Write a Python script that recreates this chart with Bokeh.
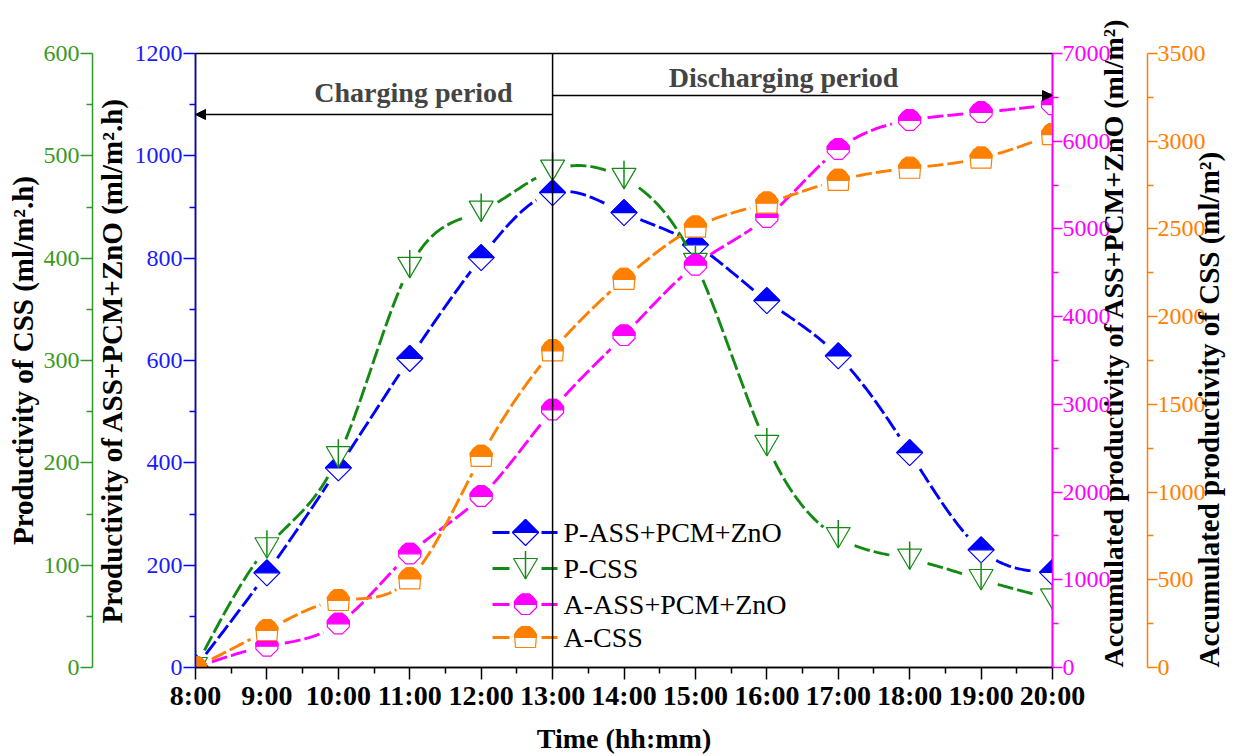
import numpy as np
from bokeh.plotting import figure
from bokeh.models import Range1d, LinearAxis, FixedTicker, Span, Arrow, NormalHead, Label
from bokeh.embed import file_html
from bokeh.resources import INLINE

# ---- data -------------------------------------------------------------
hours = [8, 9, 10, 11, 12, 13, 14, 15, 16, 17, 18, 19, 20]
time_labels = ["8:00", "9:00", "10:00", "11:00", "12:00", "13:00", "14:00",
               "15:00", "16:00", "17:00", "18:00", "19:00", "20:00"]

# hourly productivity (ml/m2.h)
p_ass_pcm_zno = [0, 185, 390, 604, 801, 928, 889, 826, 717, 609, 420, 230, 186]
p_css = [0, 117, 206, 391, 446, 486, 478, 395, 217, 127, 106, 86, 67]

# accumulated productivity (ml/m2)
a_ass_pcm_zno = [0, 243, 498, 1296, 1950, 2938, 3785, 4587, 5131, 5907, 6238, 6328, 6418]
a_css = [0, 211, 382, 505, 1203, 1805, 2212, 2510, 2647, 2777, 2846, 2904, 3038]

series_names = ["P-ASS+PCM+ZnO", "P-CSS", "A-ASS+PCM+ZnO", "A-CSS"]

# ---- geometry / style -------------------------------------------------
FRAME_W, FRAME_H = 857, 614
LEFT, TOP = 195, 53
X_MIN, X_MAX = 8, 20
SERIF = "Liberation Serif"

BLUE, GREEN, MAGENTA, ORANGE = "#0000ff", "#148a14", "#ff00ff", "#ff8000"
GREEN_AXIS = "#2f9a2a"

RANGES = {"default": 1200, "green": 600, "mag": 7000, "orange": 3500}


def px_to_x(px):
    return X_MIN + (px - LEFT) * (X_MAX - X_MIN) / FRAME_W


def px_to_y(py, top=1200):
    return (TOP + FRAME_H - py) * top / FRAME_H


def spline(xv, yv, per_seg=48):
    """Natural cubic spline through the points, sampled for drawing."""
    x = np.asarray(xv, float)
    y = np.asarray(yv, float)
    n = len(x)
    h = np.diff(x)
    A = np.zeros((n, n))
    b = np.zeros(n)
    A[0, 0] = A[-1, -1] = 1.0
    for i in range(1, n - 1):
        A[i, i - 1] = h[i - 1]
        A[i, i] = 2 * (h[i - 1] + h[i])
        A[i, i + 1] = h[i]
        b[i] = 3 * ((y[i + 1] - y[i]) / h[i] - (y[i] - y[i - 1]) / h[i - 1])
    c = np.linalg.solve(A, b)
    xs, ys = [], []
    for i in range(n - 1):
        t = np.linspace(0, h[i], per_seg, endpoint=(i == n - 2))
        bi = (y[i + 1] - y[i]) / h[i] - h[i] * (2 * c[i] + c[i + 1]) / 3
        di = (c[i + 1] - c[i]) / (3 * h[i])
        xs.append(x[i] + t)
        ys.append(y[i] + bi * t + c[i] * t ** 2 + di * t ** 3)
    return np.concatenate(xs), np.concatenate(ys)


def with_gaps(xs, ys, xv, yv, ymax, gap=17):
    """Break the curve near its own symbols."""
    dx = (xs[:, None] - np.asarray(xv, float)[None, :]) * FRAME_W / (X_MAX - X_MIN)
    dy = (ys[:, None] - np.asarray(yv, float)[None, :]) * FRAME_H / ymax
    d = np.sqrt(dx ** 2 + dy ** 2).min(axis=1)
    out = ys.copy()
    out[d < gap] = np.nan
    return out


def shape_at(xv, yv, pts, ymax):
    sx = (X_MAX - X_MIN) / FRAME_W
    sy = ymax / FRAME_H
    xs = [[x + px * sx for px, _ in pts] for x in xv]
    ys = [[y + py * sy for _, py in pts] for y in yv]
    return xs, ys


# symbol outlines in pixels (y up)
DIAMOND = [(0, 13), (13, 0), (0, -13), (-13, 0)]
DIAMOND_TOP = [(-13, 0), (0, 13), (13, 0)]
TRIANGLE = [(-12, 10), (12, 10), (0, -10.5)]
CUP_M = [(-3.5, 10.5), (3.5, 10.5), (7.5, 7.5), (11, 3), (11, -3), (4, -10),
         (-4, -10), (-11, -3), (-11, 3), (-7.5, 7.5)]
CUP_M_TOP = [(-11, 0), (-11, 3), (-7.5, 7.5), (-3.5, 10.5), (3.5, 10.5),
             (7.5, 7.5), (11, 3), (11, 0)]
CUP_O = [(-3.5, 11), (3.5, 11), (7.5, 8), (11, 3), (10, -10), (-10, -10),
         (-11, 3), (-7.5, 8)]
CUP_O_TOP = [(-10.8, 0), (-11, 3), (-7.5, 8), (-3.5, 11), (3.5, 11), (7.5, 8),
             (11, 3), (10.8, 0)]

series = [
    dict(name=series_names[0], values=p_ass_pcm_zno, rng="default", color=BLUE,
         outline=DIAMOND, top=DIAMOND_TOP, stem=False),
    dict(name=series_names[1], values=p_css, rng="green", color=GREEN,
         outline=TRIANGLE, top=None, stem=True),
    dict(name=series_names[2], values=a_ass_pcm_zno, rng="mag", color=MAGENTA,
         outline=CUP_M, top=CUP_M_TOP, stem=False),
    dict(name=series_names[3], values=a_css, rng="orange", color=ORANGE,
         outline=CUP_O, top=CUP_O_TOP, stem=False),
]

# ---- figure -----------------------------------------------------------
p = figure(frame_width=FRAME_W, frame_height=FRAME_H,
           x_range=Range1d(X_MIN, X_MAX), y_range=Range1d(0, 1200),
           x_axis_location=None, y_axis_location=None,
           toolbar_location=None, output_backend="svg",
           min_border_left=LEFT, min_border_right=195,
           min_border_top=TOP, min_border_bottom=89)
p.extra_y_ranges = {"green": Range1d(0, 600), "mag": Range1d(0, 7000),
                    "orange": Range1d(0, 3500)}
p.grid.visible = False
p.outline_line_color = "black"
p.outline_line_width = 1.5
p.background_fill_color = "white"
p.border_fill_color = "white"


def style_axis(ax, color, label_color, tick_out=12, minor_out=6):
    ax.axis_line_color = color
    ax.axis_line_width = 1.5
    ax.major_tick_line_color = color
    ax.minor_tick_line_color = color
    ax.major_tick_line_width = 1.5
    ax.minor_tick_line_width = 1.5
    ax.major_tick_out = tick_out
    ax.major_tick_in = 0
    ax.minor_tick_out = minor_out
    ax.minor_tick_in = 0
    ax.major_label_text_color = label_color
    ax.major_label_text_font = SERIF
    ax.major_label_text_font_size = "24px"
    ax.major_label_standoff = 1
    ax.axis_label_text_font = SERIF
    ax.axis_label_text_font_style = "bold"
    ax.axis_label_text_font_size = "29px"
    ax.axis_label_text_color = "black"
    ax.axis_label_standoff = 2


def ticks(step, top):
    major = list(range(0, top + 1, step))
    minor = [v + step / 2 for v in major[:-1]]
    return FixedTicker(ticks=major, minor_ticks=minor)


# x axis
xax = LinearAxis(ticker=FixedTicker(ticks=hours, minor_ticks=[h + 0.5 for h in hours[:-1]]),
                 major_label_overrides={h: t for h, t in zip(hours, time_labels)},
                 axis_label="Time (hh:mm)")
style_axis(xax, "black", "black")
xax.major_label_text_font_size = "28px"
xax.major_label_text_font_style = "bold"
xax.axis_label_text_font_size = "28px"
xax.major_label_standoff = 0
xax.axis_label_standoff = 9
p.add_layout(xax, "below")

# left axes (inner blue, outer green)
blue_ax = LinearAxis(ticker=ticks(200, 1200),
                     axis_label="Productivity of ASS+PCM+ZnO (ml/m\u00b2.h)")
style_axis(blue_ax, BLUE, "#1a1aff")
blue_ax.axis_label_standoff = 4
p.add_layout(blue_ax, "left")

green_ax = LinearAxis(y_range_name="green", ticker=ticks(100, 600),
                      axis_label="Productivity of CSS (ml/m\u00b2.h)")
style_axis(green_ax, GREEN_AXIS, "#3c9a1c")
p.add_layout(green_ax, "left")

# right axes (inner magenta, outer orange), titles reading upwards from
# the bottom of the axis
mag_ax = LinearAxis(y_range_name="mag", ticker=ticks(1000, 7000),
                    axis_label="Accumulated productivity of ASS+PCM+ZnO (ml/m\u00b2)")
orange_ax = LinearAxis(y_range_name="orange", ticker=ticks(500, 3500),
                       axis_label="Accumulated productivity of CSS (ml/m\u00b2)")
props = LinearAxis.properties()
upright = "axis_label_orientation" in props and "axis_label_align" in props
for ax, col in ((mag_ax, MAGENTA), (orange_ax, ORANGE)):
    style_axis(ax, col, col, tick_out=10, minor_out=6)
    ax.major_label_standoff = 0
    ax.axis_label_standoff = 0
    if upright:
        ax.axis_label_orientation = np.pi / 2
        ax.axis_label_align = "start"
    p.add_layout(ax, "right")
mag_ax.axis_label_text_font_size = "28px"

# ---- series -----------------------------------------------------------


def draw_symbols(s, xv, yv, ymax, rng):
    xs, ys = shape_at(xv, yv, s["outline"], ymax)
    p.patches(xs, ys, fill_color="white", line_color=s["color"], line_width=1.2,
              y_range_name=rng)
    if s["top"] is not None:
        xs, ys = shape_at(xv, yv, s["top"], ymax)
        p.patches(xs, ys, fill_color=s["color"], line_color=s["color"], line_width=1.2,
                  y_range_name=rng)
    if s["stem"]:
        sy = ymax / FRAME_H
        p.segment(x0=list(xv), y0=[y + 17.5 * sy for y in yv],
                  x1=list(xv), y1=[y - 10.5 * sy for y in yv],
                  line_color=s["color"], line_width=1.5, y_range_name=rng)


for s in series:
    rng = s["rng"]
    ymax = RANGES[rng]
    xs, ys = spline(hours, s["values"])
    ys = with_gaps(xs, ys, hours, s["values"], ymax)
    p.line(xs, ys, line_color=s["color"], line_width=2.9, line_dash="16 4",
           y_range_name=rng)
    draw_symbols(s, hours, s["values"], ymax, rng)

# ---- legend (drawn in the primary axis coordinates) -------------------
legend_rows = [532, 568, 604, 637]
for s, row in zip(series, legend_rows):
    yc = px_to_y(row)
    p.segment(x0=[px_to_x(492), px_to_x(541)], y0=[yc, yc],
              x1=[px_to_x(509), px_to_x(557)], y1=[yc, yc],
              line_color=s["color"], line_width=2.9)
    draw_symbols(s, [px_to_x(525)], [yc], 1200, "default")
    p.add_layout(Label(x=px_to_x(563), y=yc, text=s["name"], text_baseline="middle",
                       text_font=SERIF, text_font_size="28px", text_color="black"))

# ---- charging / discharging annotations -------------------------------
p.add_layout(Span(location=13, dimension="height", line_color="black", line_width=1.5))
p.add_layout(Arrow(x_start=13, y_start=px_to_y(114), x_end=X_MIN, y_end=px_to_y(114),
                   line_color="black", line_width=1.5,
                   end=NormalHead(size=10, fill_color="black", line_color="black")))
p.add_layout(Arrow(x_start=13, y_start=px_to_y(95), x_end=X_MAX, y_end=px_to_y(95),
                   line_color="black", line_width=1.5,
                   end=NormalHead(size=10, fill_color="black", line_color="black")))
p.add_layout(Label(x=px_to_x(413), y=px_to_y(92), text="Charging period",
                   text_align="center", text_baseline="middle", text_font=SERIF,
                   text_font_style="bold", text_font_size="28px"))
p.add_layout(Label(x=px_to_x(783), y=px_to_y(77), text="Discharging period",
                   text_align="center", text_baseline="middle", text_font=SERIF,
                   text_font_style="bold", text_font_size="28px"))

open("out.html", "w").write(file_html(p, INLINE))
